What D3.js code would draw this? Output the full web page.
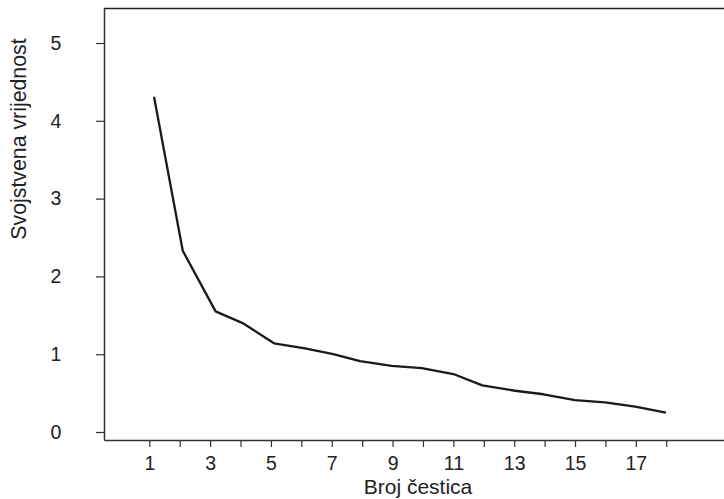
<!DOCTYPE html>
<html lang="hr">
<head>
    <meta charset="UTF-8">
    <script src="https://cdn.jsdelivr.net/npm/d3@7"></script>
    <title>Scree plot</title>
    <style>
        body { margin: 0; background: white; }
        text { font-family: 'Liberation Sans', Arial, sans-serif; fill: #222; }
        .axis path, .axis line { stroke: #333; }
    </style>
</head>
<body>
<div class="fig"></div>
<script>
    // component number and eigenvalue
    const component = [1.155, 2.10, 3.18, 4.07, 5.10, 6.12, 7.05, 7.93, 8.97, 9.96, 11.0, 11.95, 13.03, 13.96, 15.0, 15.99, 16.98, 17.99];
    const eigenvalue = [4.31, 2.33, 1.55, 1.40, 1.14, 1.076, 1.00, 0.91, 0.85, 0.82, 0.745, 0.60, 0.53, 0.485, 0.41, 0.38, 0.325, 0.25];
    const xTicks = d3.range(1, 19);
    const xLabelTicks = [1, 3, 5, 7, 9, 11, 13, 15, 17];
    const yTicks = [0, 1, 2, 3, 4, 5];
    const xTitle = "Broj čestica";
    const yTitle = "Svojstvena vrijednost";

    const width = 724, height = 499;
    const plotLeft = 104, plotTop = 8, plotBottom = 440;

    const svg = d3.select(".fig").append("svg")
        .attr("width", width)
        .attr("height", height);

    const x = d3.scaleLinear().domain([-0.49, 19.9]).range([plotLeft, width]);
    const y = d3.scaleLinear().domain([-0.103, 5.45]).range([plotBottom, plotTop]);

    // frame: top line (the box is open to the right)
    svg.append("line")
        .attr("x1", plotLeft).attr("x2", width)
        .attr("y1", plotTop + 0.5).attr("y2", plotTop + 0.5)
        .attr("stroke", "#222").attr("stroke-width", 1.3);

    const xAxis = svg.append("g")
        .attr("class", "axis")
        .attr("transform", `translate(0,${plotBottom})`)
        .call(d3.axisBottom(x).tickValues(xTicks).tickSize(7).tickSizeOuter(0)
            .tickFormat(d => xLabelTicks.includes(d) ? d : ""));
    xAxis.select(".domain").attr("stroke-width", 1.6).attr("stroke", "#555");
    xAxis.selectAll(".tick line").attr("stroke", "#444").attr("stroke-width", 1.2);
    xAxis.selectAll("text").attr("font-size", 19.5).attr("y", 30).attr("dy", 0);

    const yAxis = svg.append("g")
        .attr("class", "axis")
        .attr("transform", `translate(${plotLeft},0)`)
        .call(d3.axisLeft(y).tickValues(yTicks).tickSize(8).tickSizeOuter(0).tickFormat(d3.format("d")));
    yAxis.select(".domain").attr("stroke-width", 1.5).attr("stroke", "#333");
    yAxis.selectAll(".tick line").attr("stroke", "#444").attr("stroke-width", 1.2);
    yAxis.selectAll("text").attr("font-size", 19.5).attr("text-anchor", "middle").attr("x", -48);

    const line = d3.line()
        .x((d, i) => x(component[i]))
        .y(d => y(d));

    svg.append("path")
        .datum(eigenvalue)
        .attr("d", line)
        .attr("fill", "none")
        .attr("stroke", "#1a1a1a")
        .attr("stroke-width", 2.3)
        .attr("stroke-linejoin", "round");

    svg.append("text")
        .attr("x", 418)
        .attr("y", 494)
        .attr("text-anchor", "middle")
        .attr("font-size", 21)
        .text(xTitle);

    svg.append("text")
        .attr("transform", "translate(26,139) rotate(-90)")
        .attr("text-anchor", "middle")
        .attr("font-size", 21.3)
        .text(yTitle);
</script>
</body>
</html>
